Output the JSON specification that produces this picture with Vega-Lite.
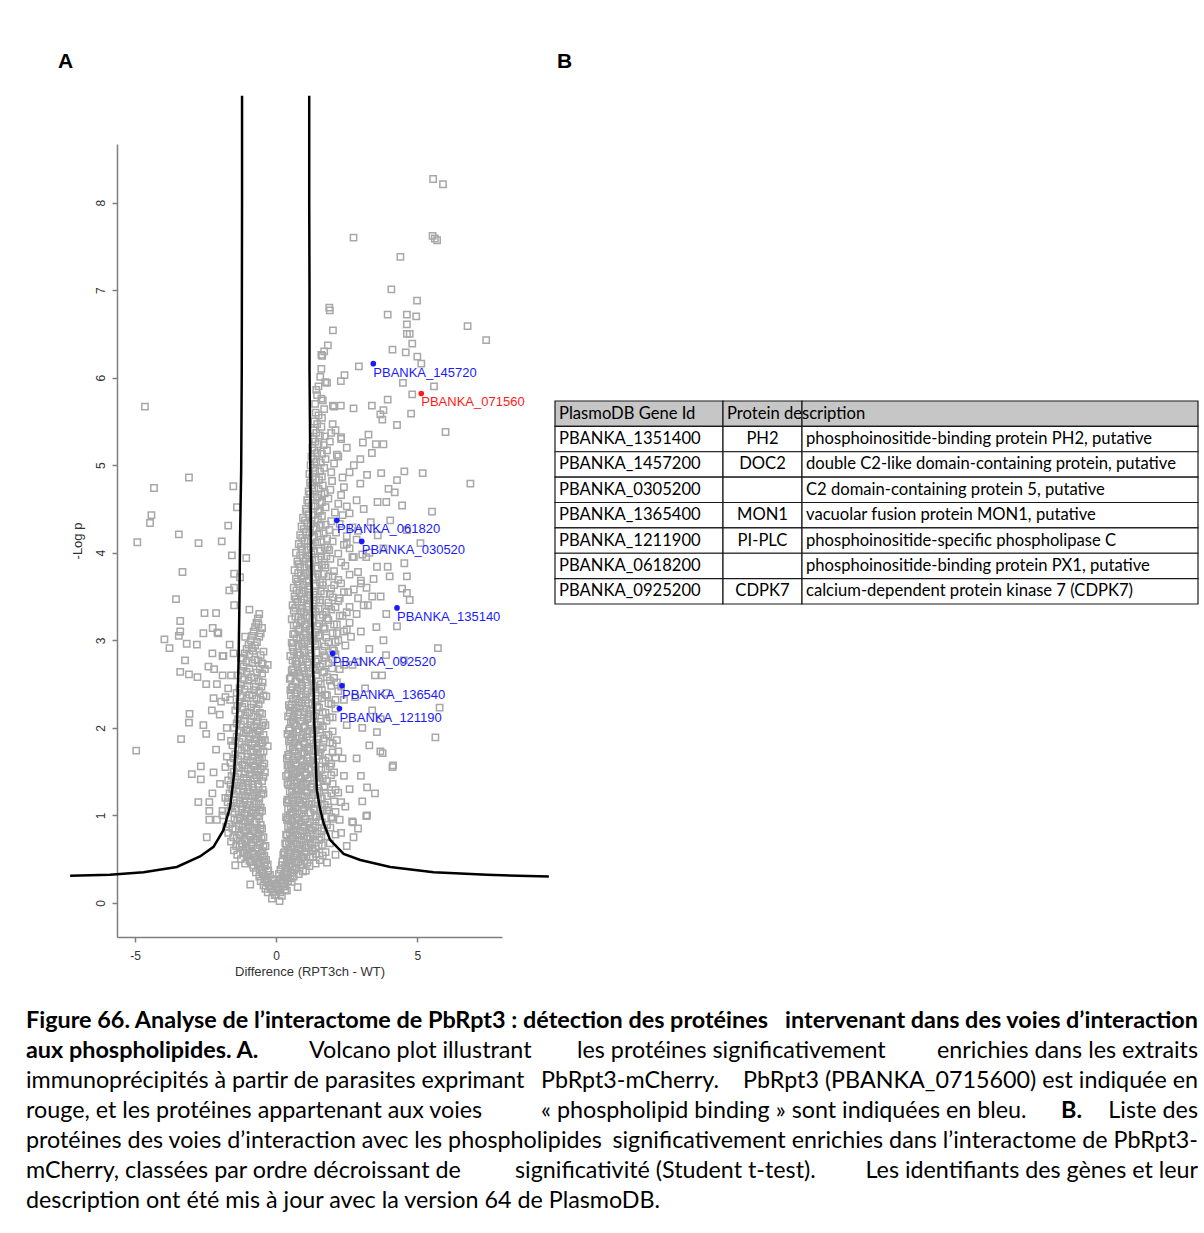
{
"$schema": "https://vega.github.io/schema/vega-lite/v6.json",
"background": "white",
"padding": {"left": 26, "top": 50, "right": 5, "bottom": 5},
"config": {"view": {"stroke": null}, "font": "Liberation Sans"},
"datasets": {
"pts": [
{"x":5.56,"y":8.27},{"x":5.91,"y":8.21},{"x":2.74,"y":7.6},{"x":5.54,"y":7.62},{"x":5.7,"y":7.57},{"x":5.62,"y":7.59},{"x":4.4,"y":7.38},{"x":4.08,"y":7.01},{"x":4.99,"y":6.88},{"x":1.88,"y":6.8},{"x":1.9,"y":6.77},{"x":3.95,"y":6.72},{"x":4.63,"y":6.72},{"x":4.96,"y":6.7},{"x":4.63,"y":6.61},{"x":6.78,"y":6.59},{"x":2.01,"y":6.54},{"x":4.63,"y":6.5},{"x":4.73,"y":6.5},{"x":7.44,"y":6.43},{"x":1.83,"y":6.37},{"x":4.82,"y":6.39},{"x":4.12,"y":6.32},{"x":4.59,"y":6.29},{"x":1.63,"y":6.25},{"x":1.6,"y":6.26},{"x":5.0,"y":6.24},{"x":5.14,"y":6.16},{"x":2.93,"y":6.13},{"x":2.42,"y":6.03},{"x":1.56,"y":6.01},{"x":1.74,"y":5.95},{"x":2.29,"y":5.96},{"x":4.49,"y":5.94},{"x":5.59,"y":5.9},{"x":1.42,"y":5.86},{"x":4.82,"y":5.81},{"x":1.6,"y":5.76},{"x":3.95,"y":5.75},{"x":2.01,"y":5.68},{"x":2.29,"y":5.68},{"x":2.74,"y":5.65},{"x":3.39,"y":5.68},{"x":3.8,"y":5.63},{"x":3.69,"y":5.58},{"x":4.78,"y":5.59},{"x":3.76,"y":5.52},{"x":4.28,"y":5.46},{"x":6.0,"y":5.38},{"x":3.07,"y":5.26},{"x":3.27,"y":5.35},{"x":3.53,"y":5.24},{"x":3.8,"y":5.24},{"x":3.39,"y":5.14},{"x":2.98,"y":5.07},{"x":2.6,"y":4.92},{"x":3.72,"y":4.91},{"x":4.54,"y":4.93},{"x":5.19,"y":4.91},{"x":6.88,"y":4.79},{"x":4.28,"y":4.83},{"x":3.98,"y":4.73},{"x":4.2,"y":4.69},{"x":3.22,"y":4.89},{"x":2.98,"y":4.79},{"x":3.59,"y":4.58},{"x":3.9,"y":4.58},{"x":4.46,"y":4.54},{"x":5.52,"y":4.47},{"x":4.04,"y":4.37},{"x":4.63,"y":4.26},{"x":5.11,"y":4.11},{"x":3.95,"y":3.84},{"x":4.54,"y":3.88},{"x":3.57,"y":3.84},{"x":3.19,"y":3.95},{"x":4.02,"y":3.73},{"x":4.63,"y":3.73},{"x":4.73,"y":3.46},{"x":4.46,"y":3.59},{"x":5.73,"y":2.91},{"x":5.79,"y":2.23},{"x":5.64,"y":1.89},{"x":4.14,"y":1.57},{"x":3.19,"y":0.99},{"x":3.05,"y":1.16},{"x":2.74,"y":0.75},{"x":2.69,"y":0.93},{"x":3.69,"y":1.73},{"x":3.57,"y":1.95},{"x":4.63,"y":3.54},{"x":3.89,"y":2.83},{"x":4.52,"y":2.77},{"x":3.75,"y":2.6},{"x":4.28,"y":3.16},{"x":4.12,"y":1.55},{"x":3.77,"y":1.71},{"x":3.22,"y":1.32},{"x":3.22,"y":1.0},{"x":2.72,"y":0.92},{"x":1.8,"y":0.46},{"x":0.76,"y":0.18},
{"x":2.1,"y":5.4},{"x":2.3,"y":5.3},{"x":2.5,"y":5.2},{"x":2.2,"y":5.1},{"x":2.75,"y":5.0},{"x":2.4,"y":4.75},{"x":2.85,"y":4.6},{"x":3.1,"y":4.5},{"x":2.6,"y":4.45},{"x":3.35,"y":4.35},{"x":2.9,"y":4.25},{"x":3.6,"y":4.2},{"x":2.5,"y":4.1},{"x":3.3,"y":4.0},{"x":2.7,"y":3.95},{"x":3.8,"y":4.05},{"x":3.45,"y":3.7},{"x":3.0,"y":3.65},{"x":2.55,"y":3.55},{"x":3.7,"y":3.5},{"x":3.25,"y":3.4},{"x":3.9,"y":3.3},{"x":3.55,"y":3.15},{"x":3.0,"y":3.1},{"x":3.8,"y":3.0},{"x":3.3,"y":2.9},{"x":2.9,"y":2.75},{"x":3.5,"y":2.6},{"x":3.15,"y":2.45},{"x":3.9,"y":2.4},{"x":2.8,"y":2.35},{"x":3.4,"y":2.2},{"x":3.7,"y":2.1},{"x":3.05,"y":2.0},{"x":3.3,"y":1.8},{"x":2.85,"y":1.65},{"x":3.0,"y":1.45},{"x":2.6,"y":1.3},{"x":3.5,"y":1.25},{"x":2.45,"y":1.1},{"x":2.9,"y":0.85},{"x":2.3,"y":0.8},{"x":2.5,"y":0.65},{"x":2.1,"y":0.55},
{"x":-4.65,"y":5.67},{"x":-3.09,"y":4.86},{"x":-4.33,"y":4.74},{"x":-1.52,"y":4.76},{"x":-4.42,"y":4.43},{"x":-4.47,"y":4.34},{"x":-1.39,"y":4.52},{"x":-1.7,"y":4.31},{"x":-3.45,"y":4.21},{"x":-4.92,"y":4.12},{"x":-2.75,"y":4.11},{"x":-1.93,"y":4.13},{"x":-1.57,"y":3.97},{"x":-1.06,"y":3.94},{"x":-3.32,"y":3.78},{"x":-1.49,"y":3.76},{"x":-1.28,"y":3.72},{"x":-1.66,"y":3.57},{"x":-1.49,"y":3.6},{"x":-3.55,"y":3.47},{"x":-2.54,"y":3.31},{"x":-2.13,"y":3.31},{"x":-1.49,"y":3.4},{"x":-0.95,"y":3.35},{"x":-3.4,"y":3.22},{"x":-2.25,"y":3.14},{"x":-2.58,"y":3.08},{"x":-3.45,"y":3.05},{"x":-3.96,"y":3.01},{"x":-3.17,"y":2.96},{"x":-3.78,"y":2.91},{"x":-2.81,"y":2.95},{"x":-2.05,"y":3.08},{"x":-1.1,"y":3.04},{"x":-0.86,"y":2.91},{"x":-0.63,"y":3.18},{"x":-1.18,"y":2.79},{"x":-1.51,"y":2.85},{"x":-2.26,"y":2.85},{"x":-3.23,"y":2.77},{"x":-0.51,"y":2.74},{"x":-1.9,"y":2.82},{"x":-3.4,"y":3.1},{"x":-2.08,"y":3.09},{"x":-3.4,"y":2.64},{"x":-3.09,"y":2.61},{"x":-2.79,"y":2.58},{"x":-2.4,"y":2.7},{"x":-2.2,"y":2.67},{"x":-1.87,"y":2.82},{"x":-2.48,"y":2.5},{"x":-2.22,"y":2.34},{"x":-1.63,"y":2.32},{"x":-1.8,"y":2.35},{"x":-1.95,"y":2.3},{"x":-2.28,"y":2.2},{"x":-3.07,"y":2.16},{"x":-3.09,"y":2.06},{"x":-2.58,"y":2.03},{"x":-2.48,"y":1.93},{"x":-3.37,"y":1.87},{"x":-4.96,"y":1.74},{"x":-2.13,"y":1.75},{"x":-1.75,"y":1.67},{"x":-2.67,"y":1.56},{"x":-2.99,"y":1.47},{"x":-2.67,"y":1.41},{"x":-2.22,"y":1.49},{"x":-1.99,"y":1.36},{"x":-2.26,"y":1.25},{"x":-2.76,"y":1.15},{"x":-2.37,"y":1.15},{"x":-2.37,"y":1.05},{"x":-2.37,"y":0.95},{"x":-2.46,"y":0.75},{"x":-1.77,"y":0.87},{"x":-1.45,"y":0.43},{"x":-0.92,"y":0.21},
{"x":-1.9,"y":2.6},{"x":-1.7,"y":2.45},{"x":-2.0,"y":2.15},{"x":-1.75,"y":2.0},{"x":-1.6,"y":1.85},{"x":-1.95,"y":1.9},{"x":-1.8,"y":1.55},{"x":-1.55,"y":1.3},{"x":-1.7,"y":1.2},{"x":-1.9,"y":1.05},{"x":-2.1,"y":0.95},{"x":-1.6,"y":2.6},{"x":-1.65,"y":2.95},{"x":-2.1,"y":2.5},
{"x":-0.15,"y":0.05},{"x":0.0,"y":0.09},{"x":0.12,"y":0.02},
{"x":-0.3,"y":0.12},{"x":-0.18,"y":0.16},{"x":-0.05,"y":0.09},{"x":0.08,"y":0.14},{"x":0.2,"y":0.08},{"x":0.32,"y":0.15},
{"x":-0.45,"y":0.2},{"x":-0.32,"y":0.24},{"x":-0.2,"y":0.17},{"x":-0.08,"y":0.22},{"x":0.05,"y":0.16},{"x":0.18,"y":0.23},{"x":0.3,"y":0.19},{"x":0.42,"y":0.25},
{"x":-0.6,"y":0.3},{"x":-0.48,"y":0.34},{"x":-0.35,"y":0.27},{"x":-0.22,"y":0.32},{"x":-0.1,"y":0.26},{"x":0.1,"y":0.33},{"x":0.22,"y":0.29},{"x":0.35,"y":0.35},{"x":0.5,"y":0.28},{"x":0.62,"y":0.3},
{"x":-0.8,"y":0.4},{"x":-0.65,"y":0.44},{"x":-0.52,"y":0.37},{"x":-0.4,"y":0.42},{"x":-0.28,"y":0.36},{"x":0.2,"y":0.43},{"x":0.32,"y":0.39},{"x":0.45,"y":0.45},{"x":0.58,"y":0.38},{"x":0.72,"y":0.4},{"x":0.88,"y":0.44},{"x":1.05,"y":0.37},
{"x":-1.25,"y":0.5},{"x":-1.05,"y":0.54},{"x":-0.9,"y":0.47},{"x":-0.75,"y":0.52},{"x":-0.6,"y":0.46},{"x":-0.48,"y":0.53},{"x":-0.36,"y":0.49},{"x":0.25,"y":0.55},{"x":0.38,"y":0.48},{"x":0.52,"y":0.5},{"x":0.66,"y":0.54},{"x":0.8,"y":0.47},{"x":0.95,"y":0.52},{"x":1.1,"y":0.46},{"x":1.3,"y":0.53},{"x":1.55,"y":0.49},
{"x":-1.5,"y":0.6},{"x":-1.3,"y":0.64},{"x":-1.12,"y":0.57},{"x":-0.95,"y":0.62},{"x":-0.8,"y":0.56},{"x":-0.65,"y":0.63},{"x":-0.5,"y":0.59},{"x":-0.38,"y":0.65},{"x":0.3,"y":0.58},{"x":0.42,"y":0.6},{"x":0.55,"y":0.64},{"x":0.7,"y":0.57},{"x":0.85,"y":0.62},{"x":1.0,"y":0.56},{"x":1.15,"y":0.63},{"x":1.3,"y":0.59},{"x":1.5,"y":0.65},{"x":1.75,"y":0.58},
{"x":-1.6,"y":0.7},{"x":-1.4,"y":0.74},{"x":-1.2,"y":0.67},{"x":-1.05,"y":0.72},{"x":-0.88,"y":0.66},{"x":-0.72,"y":0.73},{"x":-0.58,"y":0.69},{"x":-0.45,"y":0.75},{"x":0.32,"y":0.68},{"x":0.45,"y":0.7},{"x":0.6,"y":0.74},{"x":0.75,"y":0.67},{"x":0.9,"y":0.72},{"x":1.05,"y":0.66},{"x":1.2,"y":0.73},{"x":1.38,"y":0.69},{"x":1.6,"y":0.75},{"x":1.9,"y":0.68},
{"x":-1.7,"y":0.8},{"x":-1.45,"y":0.84},{"x":-1.25,"y":0.77},{"x":-1.08,"y":0.82},{"x":-0.92,"y":0.76},{"x":-0.78,"y":0.83},{"x":-0.62,"y":0.79},{"x":-0.5,"y":0.85},{"x":0.35,"y":0.78},{"x":0.48,"y":0.8},{"x":0.62,"y":0.84},{"x":0.78,"y":0.77},{"x":0.92,"y":0.82},{"x":1.08,"y":0.76},{"x":1.25,"y":0.83},{"x":1.45,"y":0.79},{"x":1.7,"y":0.85},{"x":2.1,"y":0.78},
{"x":-1.65,"y":0.9},{"x":-1.38,"y":0.94},{"x":-1.18,"y":0.87},{"x":-1.0,"y":0.92},{"x":-0.85,"y":0.86},{"x":-0.7,"y":0.93},{"x":-0.55,"y":0.89},{"x":0.38,"y":0.95},{"x":0.5,"y":0.88},{"x":0.65,"y":0.9},{"x":0.8,"y":0.94},{"x":0.95,"y":0.87},{"x":1.12,"y":0.92},{"x":1.3,"y":0.86},{"x":1.52,"y":0.93},{"x":1.8,"y":0.89},{"x":2.25,"y":0.95},
{"x":-1.9,"y":1.0},{"x":-1.55,"y":1.04},{"x":-1.3,"y":0.97},{"x":-1.12,"y":1.02},{"x":-0.95,"y":0.96},{"x":-0.8,"y":1.03},{"x":-0.65,"y":0.99},{"x":-0.5,"y":1.05},{"x":0.35,"y":0.98},{"x":0.48,"y":1.0},{"x":0.6,"y":1.04},{"x":0.75,"y":0.97},{"x":0.9,"y":1.02},{"x":1.05,"y":0.96},{"x":1.22,"y":1.03},{"x":1.42,"y":0.99},{"x":1.65,"y":1.05},{"x":1.95,"y":0.98},
{"x":-1.6,"y":1.1},{"x":-1.4,"y":1.14},{"x":-1.2,"y":1.07},{"x":-1.02,"y":1.12},{"x":-0.85,"y":1.06},{"x":-0.7,"y":1.13},{"x":-0.55,"y":1.09},{"x":0.38,"y":1.15},{"x":0.52,"y":1.08},{"x":0.68,"y":1.1},{"x":0.82,"y":1.14},{"x":0.98,"y":1.07},{"x":1.15,"y":1.12},{"x":1.35,"y":1.06},{"x":1.58,"y":1.13},{"x":1.85,"y":1.09},{"x":2.3,"y":1.15},
{"x":-1.8,"y":1.2},{"x":-1.5,"y":1.24},{"x":-1.28,"y":1.17},{"x":-1.1,"y":1.22},{"x":-0.92,"y":1.16},{"x":-0.75,"y":1.23},{"x":-0.6,"y":1.19},{"x":-0.45,"y":1.25},{"x":0.4,"y":1.18},{"x":0.55,"y":1.2},{"x":0.7,"y":1.24},{"x":0.85,"y":1.17},{"x":1.0,"y":1.22},{"x":1.18,"y":1.16},{"x":1.38,"y":1.23},{"x":1.62,"y":1.19},{"x":1.95,"y":1.25},
{"x":-1.55,"y":1.3},{"x":-1.32,"y":1.34},{"x":-1.15,"y":1.27},{"x":-0.98,"y":1.32},{"x":-0.8,"y":1.26},{"x":-0.62,"y":1.33},{"x":-0.48,"y":1.29},{"x":0.42,"y":1.35},{"x":0.56,"y":1.28},{"x":0.72,"y":1.3},{"x":0.88,"y":1.34},{"x":1.05,"y":1.27},{"x":1.22,"y":1.32},{"x":1.45,"y":1.26},{"x":1.72,"y":1.33},{"x":2.1,"y":1.29},
{"x":-1.7,"y":1.4},{"x":-1.45,"y":1.44},{"x":-1.25,"y":1.37},{"x":-1.05,"y":1.42},{"x":-0.85,"y":1.36},{"x":-0.68,"y":1.43},{"x":-0.5,"y":1.39},{"x":0.35,"y":1.45},{"x":0.5,"y":1.38},{"x":0.65,"y":1.4},{"x":0.8,"y":1.44},{"x":0.95,"y":1.37},{"x":1.12,"y":1.42},{"x":1.3,"y":1.36},{"x":1.52,"y":1.43},{"x":1.8,"y":1.39},{"x":2.4,"y":1.45},
{"x":-1.5,"y":1.5},{"x":-1.3,"y":1.54},{"x":-1.1,"y":1.47},{"x":-0.9,"y":1.52},{"x":-0.72,"y":1.46},{"x":-0.55,"y":1.53},{"x":-0.4,"y":1.49},{"x":0.45,"y":1.55},{"x":0.6,"y":1.48},{"x":0.75,"y":1.5},{"x":0.9,"y":1.54},{"x":1.08,"y":1.47},{"x":1.25,"y":1.52},{"x":1.48,"y":1.46},{"x":1.75,"y":1.53},{"x":2.05,"y":1.49},
{"x":-1.62,"y":1.6},{"x":-1.35,"y":1.64},{"x":-1.12,"y":1.57},{"x":-0.92,"y":1.62},{"x":-0.75,"y":1.56},{"x":-0.58,"y":1.63},{"x":-0.42,"y":1.59},{"x":0.38,"y":1.65},{"x":0.52,"y":1.58},{"x":0.68,"y":1.6},{"x":0.85,"y":1.64},{"x":1.02,"y":1.57},{"x":1.2,"y":1.62},{"x":1.4,"y":1.56},{"x":1.65,"y":1.63},{"x":1.95,"y":1.59},{"x":2.35,"y":1.65},
{"x":-1.45,"y":1.7},{"x":-1.22,"y":1.74},{"x":-1.0,"y":1.67},{"x":-0.8,"y":1.72},{"x":-0.62,"y":1.66},{"x":-0.45,"y":1.73},{"x":0.42,"y":1.69},{"x":0.58,"y":1.75},{"x":0.75,"y":1.68},{"x":0.92,"y":1.7},{"x":1.1,"y":1.74},{"x":1.3,"y":1.67},{"x":1.55,"y":1.72},{"x":1.85,"y":1.66},{"x":2.2,"y":1.73},
{"x":-1.55,"y":1.8},{"x":-1.3,"y":1.84},{"x":-1.05,"y":1.77},{"x":-0.85,"y":1.82},{"x":-0.65,"y":1.76},{"x":-0.48,"y":1.83},{"x":-0.3,"y":1.79},{"x":0.45,"y":1.85},{"x":0.6,"y":1.78},{"x":0.78,"y":1.8},{"x":0.95,"y":1.84},{"x":1.12,"y":1.77},{"x":1.32,"y":1.82},{"x":1.58,"y":1.76},{"x":1.9,"y":1.83},
{"x":-1.4,"y":1.9},{"x":-1.15,"y":1.94},{"x":-0.92,"y":1.87},{"x":-0.72,"y":1.92},{"x":-0.52,"y":1.86},{"x":0.4,"y":1.93},{"x":0.55,"y":1.89},{"x":0.72,"y":1.95},{"x":0.9,"y":1.88},{"x":1.08,"y":1.9},{"x":1.28,"y":1.94},{"x":1.5,"y":1.87},{"x":1.78,"y":1.92},{"x":2.15,"y":1.86},
{"x":-1.5,"y":2.0},{"x":-1.25,"y":2.04},{"x":-1.0,"y":1.97},{"x":-0.78,"y":2.02},{"x":-0.58,"y":1.96},{"x":-0.38,"y":2.03},{"x":0.48,"y":1.99},{"x":0.62,"y":2.05},{"x":0.8,"y":1.98},{"x":0.98,"y":2.0},{"x":1.18,"y":2.04},{"x":1.4,"y":1.97},{"x":1.65,"y":2.02},{"x":2.0,"y":1.96},{"x":2.5,"y":2.03},
{"x":-1.35,"y":2.1},{"x":-1.1,"y":2.14},{"x":-0.88,"y":2.07},{"x":-0.65,"y":2.12},{"x":-0.45,"y":2.06},{"x":0.42,"y":2.13},{"x":0.58,"y":2.09},{"x":0.75,"y":2.15},{"x":0.92,"y":2.08},{"x":1.1,"y":2.1},{"x":1.32,"y":2.14},{"x":1.58,"y":2.07},{"x":1.9,"y":2.12},
{"x":-1.45,"y":2.2},{"x":-1.2,"y":2.24},{"x":-0.95,"y":2.17},{"x":-0.7,"y":2.22},{"x":-0.5,"y":2.16},{"x":0.5,"y":2.23},{"x":0.65,"y":2.19},{"x":0.82,"y":2.25},{"x":1.0,"y":2.18},{"x":1.2,"y":2.2},{"x":1.45,"y":2.24},{"x":1.75,"y":2.17},{"x":2.1,"y":2.22},
{"x":-1.3,"y":2.3},{"x":-1.05,"y":2.34},{"x":-0.8,"y":2.27},{"x":-0.55,"y":2.32},{"x":0.45,"y":2.26},{"x":0.6,"y":2.33},{"x":0.78,"y":2.29},{"x":0.95,"y":2.35},{"x":1.15,"y":2.28},{"x":1.38,"y":2.3},{"x":1.62,"y":2.34},{"x":1.95,"y":2.27},{"x":2.4,"y":2.32},
{"x":-1.4,"y":2.4},{"x":-1.12,"y":2.44},{"x":-0.85,"y":2.37},{"x":-0.6,"y":2.42},{"x":-0.35,"y":2.36},{"x":0.5,"y":2.43},{"x":0.68,"y":2.39},{"x":0.85,"y":2.45},{"x":1.05,"y":2.38},{"x":1.25,"y":2.4},{"x":1.5,"y":2.44},{"x":1.8,"y":2.37},{"x":2.2,"y":2.42},
{"x":-1.25,"y":2.5},{"x":-0.98,"y":2.54},{"x":-0.72,"y":2.47},{"x":-0.48,"y":2.52},{"x":0.55,"y":2.46},{"x":0.72,"y":2.53},{"x":0.9,"y":2.49},{"x":1.1,"y":2.55},{"x":1.32,"y":2.48},{"x":1.58,"y":2.5},{"x":1.9,"y":2.54},{"x":2.3,"y":2.47},
{"x":-1.35,"y":2.6},{"x":-1.05,"y":2.64},{"x":-0.78,"y":2.57},{"x":-0.5,"y":2.62},{"x":0.48,"y":2.56},{"x":0.65,"y":2.63},{"x":0.82,"y":2.59},{"x":1.0,"y":2.65},{"x":1.2,"y":2.58},{"x":1.42,"y":2.6},{"x":1.7,"y":2.64},{"x":2.05,"y":2.57},
{"x":-1.15,"y":2.7},{"x":-0.85,"y":2.74},{"x":-0.58,"y":2.67},{"x":-0.3,"y":2.72},{"x":0.55,"y":2.66},{"x":0.72,"y":2.73},{"x":0.9,"y":2.69},{"x":1.1,"y":2.75},{"x":1.3,"y":2.68},{"x":1.55,"y":2.7},{"x":1.85,"y":2.74},{"x":2.25,"y":2.67},{"x":2.7,"y":2.72},
{"x":-1.25,"y":2.8},{"x":-0.95,"y":2.84},{"x":-0.65,"y":2.77},{"x":0.5,"y":2.82},{"x":0.68,"y":2.76},{"x":0.85,"y":2.83},{"x":1.05,"y":2.79},{"x":1.25,"y":2.85},{"x":1.48,"y":2.78},{"x":1.75,"y":2.8},{"x":2.1,"y":2.84},
{"x":-1.05,"y":2.9},{"x":-0.75,"y":2.94},{"x":-0.45,"y":2.87},{"x":0.58,"y":2.92},{"x":0.75,"y":2.86},{"x":0.95,"y":2.93},{"x":1.15,"y":2.89},{"x":1.38,"y":2.95},{"x":1.65,"y":2.88},{"x":2.0,"y":2.9},{"x":2.45,"y":2.94},
{"x":-0.9,"y":3.0},{"x":-0.6,"y":3.04},{"x":0.55,"y":2.97},{"x":0.72,"y":3.02},{"x":0.9,"y":2.96},{"x":1.1,"y":3.03},{"x":1.3,"y":2.99},{"x":1.55,"y":3.05},{"x":1.85,"y":2.98},{"x":2.2,"y":3.0},{"x":2.65,"y":3.04},
{"x":-0.8,"y":3.1},{"x":-0.5,"y":3.14},{"x":0.6,"y":3.07},{"x":0.78,"y":3.12},{"x":0.98,"y":3.06},{"x":1.18,"y":3.13},{"x":1.4,"y":3.09},{"x":1.68,"y":3.15},{"x":2.0,"y":3.08},{"x":2.4,"y":3.1},
{"x":-0.7,"y":3.2},{"x":0.55,"y":3.24},{"x":0.72,"y":3.17},{"x":0.9,"y":3.22},{"x":1.08,"y":3.16},{"x":1.28,"y":3.23},{"x":1.52,"y":3.19},{"x":1.8,"y":3.25},{"x":2.15,"y":3.18},{"x":2.6,"y":3.2},
{"x":-0.6,"y":3.3},{"x":0.62,"y":3.34},{"x":0.8,"y":3.27},{"x":0.98,"y":3.32},{"x":1.18,"y":3.26},{"x":1.4,"y":3.33},{"x":1.65,"y":3.29},{"x":1.95,"y":3.35},{"x":2.35,"y":3.28},{"x":2.85,"y":3.3},
{"x":0.58,"y":3.4},{"x":0.75,"y":3.44},{"x":0.92,"y":3.37},{"x":1.12,"y":3.42},{"x":1.32,"y":3.36},{"x":1.55,"y":3.43},{"x":1.85,"y":3.39},{"x":2.2,"y":3.45},{"x":2.6,"y":3.38},{"x":3.1,"y":3.4},
{"x":0.65,"y":3.5},{"x":0.82,"y":3.54},{"x":1.0,"y":3.47},{"x":1.2,"y":3.52},{"x":1.42,"y":3.46},{"x":1.7,"y":3.53},{"x":2.0,"y":3.49},{"x":2.4,"y":3.55},{"x":2.9,"y":3.48},{"x":3.4,"y":3.5},
{"x":0.62,"y":3.6},{"x":0.8,"y":3.64},{"x":0.98,"y":3.57},{"x":1.18,"y":3.62},{"x":1.4,"y":3.56},{"x":1.65,"y":3.63},{"x":1.95,"y":3.59},{"x":2.3,"y":3.65},{"x":2.75,"y":3.58},{"x":3.2,"y":3.6},
{"x":0.7,"y":3.7},{"x":0.88,"y":3.74},{"x":1.08,"y":3.67},{"x":1.3,"y":3.72},{"x":1.55,"y":3.66},{"x":1.85,"y":3.73},{"x":2.2,"y":3.69},{"x":2.6,"y":3.75},{"x":3.0,"y":3.68},
{"x":0.65,"y":3.8},{"x":0.85,"y":3.84},{"x":1.05,"y":3.77},{"x":1.25,"y":3.82},{"x":1.48,"y":3.76},{"x":1.75,"y":3.83},{"x":2.05,"y":3.79},{"x":2.45,"y":3.85},{"x":2.9,"y":3.78},
{"x":0.75,"y":3.9},{"x":0.95,"y":3.94},{"x":1.15,"y":3.87},{"x":1.38,"y":3.92},{"x":1.62,"y":3.86},{"x":1.92,"y":3.93},{"x":2.3,"y":3.89},{"x":2.75,"y":3.95},
{"x":0.7,"y":4.0},{"x":0.92,"y":4.04},{"x":1.12,"y":3.97},{"x":1.35,"y":4.02},{"x":1.6,"y":3.96},{"x":1.88,"y":4.03},{"x":2.2,"y":3.99},{"x":2.6,"y":4.05},{"x":3.05,"y":3.98},
{"x":0.8,"y":4.1},{"x":1.0,"y":4.14},{"x":1.22,"y":4.07},{"x":1.45,"y":4.12},{"x":1.72,"y":4.06},{"x":2.0,"y":4.13},{"x":2.4,"y":4.09},{"x":2.85,"y":4.15},
{"x":0.85,"y":4.2},{"x":1.05,"y":4.24},{"x":1.28,"y":4.17},{"x":1.52,"y":4.22},{"x":1.8,"y":4.16},{"x":2.12,"y":4.23},{"x":2.5,"y":4.19},
{"x":0.9,"y":4.3},{"x":1.1,"y":4.34},{"x":1.32,"y":4.27},{"x":1.58,"y":4.32},{"x":1.88,"y":4.26},{"x":2.25,"y":4.33},{"x":2.7,"y":4.29},
{"x":0.95,"y":4.4},{"x":1.15,"y":4.44},{"x":1.38,"y":4.37},{"x":1.62,"y":4.42},{"x":1.95,"y":4.36},{"x":2.35,"y":4.43},
{"x":1.05,"y":4.5},{"x":1.25,"y":4.54},{"x":1.48,"y":4.47},{"x":1.75,"y":4.52},{"x":2.08,"y":4.46},{"x":2.5,"y":4.53},
{"x":1.1,"y":4.6},{"x":1.3,"y":4.64},{"x":1.55,"y":4.57},{"x":1.85,"y":4.62},{"x":2.2,"y":4.56},
{"x":1.15,"y":4.7},{"x":1.35,"y":4.74},{"x":1.6,"y":4.67},{"x":1.92,"y":4.72},{"x":2.3,"y":4.66},
{"x":1.2,"y":4.8},{"x":1.4,"y":4.84},{"x":1.65,"y":4.77},{"x":1.98,"y":4.82},
{"x":1.18,"y":4.9},{"x":1.38,"y":4.94},{"x":1.62,"y":4.87},{"x":1.95,"y":4.92},{"x":2.35,"y":4.86},
{"x":1.22,"y":5.0},{"x":1.42,"y":5.04},{"x":1.7,"y":4.97},{"x":2.05,"y":5.02},
{"x":1.25,"y":5.1},{"x":1.45,"y":5.14},{"x":1.75,"y":5.07},{"x":2.15,"y":5.12},
{"x":1.28,"y":5.2},{"x":1.5,"y":5.24},{"x":1.8,"y":5.17},
{"x":1.3,"y":5.3},{"x":1.55,"y":5.34},{"x":1.9,"y":5.27},{"x":2.3,"y":5.32},
{"x":1.32,"y":5.4},{"x":1.6,"y":5.44},{"x":1.95,"y":5.37},
{"x":1.35,"y":5.5},{"x":1.62,"y":5.54},{"x":2.0,"y":5.47},
{"x":1.4,"y":5.6},{"x":1.7,"y":5.64},
{"x":1.38,"y":5.7},{"x":1.65,"y":5.74},{"x":2.05,"y":5.67},
{"x":1.45,"y":5.8},{"x":1.5,"y":5.9},{"x":1.8,"y":5.94},{"x":1.6,"y":6.1},{"x":1.7,"y":6.3},
{"x":-0.38,"y":0.16},{"x":-0.25,"y":0.19},{"x":-0.12,"y":0.13},{"x":0.02,"y":0.18},{"x":0.14,"y":0.12},{"x":0.26,"y":0.19},{"x":0.38,"y":0.14},
{"x":-0.55,"y":0.25},{"x":-0.42,"y":0.28},{"x":-0.28,"y":0.23},{"x":-0.15,"y":0.27},{"x":0.0,"y":0.21},{"x":0.14,"y":0.27},{"x":0.26,"y":0.24},{"x":0.4,"y":0.29},{"x":0.55,"y":0.24},
{"x":-0.72,"y":0.35},{"x":-0.58,"y":0.38},{"x":-0.45,"y":0.33},{"x":-0.3,"y":0.37},{"x":0.15,"y":0.38},{"x":0.28,"y":0.33},{"x":0.4,"y":0.36},{"x":0.52,"y":0.34},{"x":0.66,"y":0.38},{"x":0.8,"y":0.33},{"x":0.95,"y":0.36},
{"x":-1.1,"y":0.45},{"x":-0.95,"y":0.48},{"x":-0.82,"y":0.43},{"x":-0.68,"y":0.47},{"x":-0.55,"y":0.42},{"x":-0.42,"y":0.46},{"x":-0.3,"y":0.44},{"x":0.22,"y":0.47},{"x":0.32,"y":0.43},{"x":0.45,"y":0.48},{"x":0.58,"y":0.42},{"x":0.72,"y":0.46},{"x":0.87,"y":0.43},{"x":1.0,"y":0.48},{"x":1.18,"y":0.42},{"x":1.4,"y":0.45},
{"x":-1.38,"y":0.55},{"x":-1.18,"y":0.58},{"x":-1.0,"y":0.53},{"x":-0.85,"y":0.57},{"x":-0.7,"y":0.52},{"x":-0.55,"y":0.56},{"x":-0.42,"y":0.54},{"x":0.28,"y":0.57},{"x":0.4,"y":0.53},{"x":0.5,"y":0.58},{"x":0.62,"y":0.52},{"x":0.75,"y":0.56},{"x":0.9,"y":0.53},{"x":1.05,"y":0.58},{"x":1.2,"y":0.52},{"x":1.4,"y":0.56},{"x":1.65,"y":0.54},
{"x":-1.42,"y":0.65},{"x":-1.22,"y":0.68},{"x":-1.05,"y":0.63},{"x":-0.88,"y":0.67},{"x":-0.72,"y":0.62},{"x":-0.58,"y":0.66},{"x":-0.45,"y":0.64},{"x":0.36,"y":0.67},{"x":0.5,"y":0.63},{"x":0.62,"y":0.68},{"x":0.78,"y":0.62},{"x":0.92,"y":0.66},{"x":1.08,"y":0.63},{"x":1.22,"y":0.68},{"x":1.4,"y":0.62},{"x":1.62,"y":0.66},
{"x":-1.52,"y":0.75},{"x":-1.3,"y":0.78},{"x":-1.12,"y":0.73},{"x":-0.96,"y":0.77},{"x":-0.8,"y":0.72},{"x":-0.65,"y":0.76},{"x":-0.52,"y":0.74},{"x":0.38,"y":0.77},{"x":0.52,"y":0.73},{"x":0.68,"y":0.78},{"x":0.82,"y":0.72},{"x":0.98,"y":0.76},{"x":1.12,"y":0.73},{"x":1.3,"y":0.78},{"x":1.52,"y":0.72},{"x":1.75,"y":0.76},
{"x":-1.55,"y":0.85},{"x":-1.32,"y":0.88},{"x":-1.15,"y":0.83},{"x":-0.98,"y":0.87},{"x":-0.82,"y":0.82},{"x":-0.68,"y":0.86},{"x":-0.56,"y":0.84},{"x":0.42,"y":0.87},{"x":0.55,"y":0.83},{"x":0.7,"y":0.88},{"x":0.85,"y":0.82},{"x":1.0,"y":0.86},{"x":1.18,"y":0.83},{"x":1.38,"y":0.88},{"x":1.6,"y":0.82},{"x":1.92,"y":0.86},
{"x":-1.48,"y":0.95},{"x":-1.28,"y":0.98},{"x":-1.1,"y":0.93},{"x":-0.92,"y":0.97},{"x":-0.76,"y":0.92},{"x":-0.6,"y":0.96},{"x":0.42,"y":0.97},{"x":0.56,"y":0.93},{"x":0.72,"y":0.98},{"x":0.88,"y":0.92},{"x":1.02,"y":0.96},{"x":1.2,"y":0.93},{"x":1.4,"y":0.98},{"x":1.62,"y":0.92},{"x":2.0,"y":0.96},
{"x":-1.7,"y":1.05},{"x":-1.45,"y":1.08},{"x":-1.22,"y":1.03},{"x":-1.05,"y":1.07},{"x":-0.88,"y":1.02},{"x":-0.72,"y":1.06},{"x":-0.58,"y":1.04},{"x":0.42,"y":1.07},{"x":0.55,"y":1.03},{"x":0.68,"y":1.08},{"x":0.82,"y":1.02},{"x":0.98,"y":1.06},{"x":1.15,"y":1.03},{"x":1.32,"y":1.08},{"x":1.55,"y":1.02},{"x":1.8,"y":1.06},{"x":2.1,"y":1.04},
{"x":-1.72,"y":1.15},{"x":-1.5,"y":1.18},{"x":-1.3,"y":1.13},{"x":-1.12,"y":1.17},{"x":-0.95,"y":1.12},{"x":-0.78,"y":1.16},{"x":-0.62,"y":1.14},{"x":0.45,"y":1.17},{"x":0.6,"y":1.13},{"x":0.75,"y":1.18},{"x":0.9,"y":1.12},{"x":1.05,"y":1.16},{"x":1.25,"y":1.13},{"x":1.48,"y":1.18},{"x":1.72,"y":1.12},{"x":2.05,"y":1.16},
{"x":-1.65,"y":1.25},{"x":-1.4,"y":1.28},{"x":-1.2,"y":1.23},{"x":-1.02,"y":1.27},{"x":-0.85,"y":1.22},{"x":-0.68,"y":1.26},{"x":-0.52,"y":1.24},{"x":0.48,"y":1.27},{"x":0.62,"y":1.23},{"x":0.78,"y":1.28},{"x":0.92,"y":1.22},{"x":1.1,"y":1.26},{"x":1.3,"y":1.23},{"x":1.52,"y":1.28},{"x":1.8,"y":1.22},{"x":2.2,"y":1.26},
{"x":-1.62,"y":1.35},{"x":-1.38,"y":1.38},{"x":-1.18,"y":1.33},{"x":-1.0,"y":1.37},{"x":-0.82,"y":1.32},{"x":-0.65,"y":1.36},{"x":0.4,"y":1.37},{"x":0.58,"y":1.33},{"x":0.75,"y":1.38},{"x":0.9,"y":1.32},{"x":1.05,"y":1.36},{"x":1.25,"y":1.33},{"x":1.45,"y":1.38},{"x":1.7,"y":1.32},{"x":2.0,"y":1.36},
{"x":-1.58,"y":1.45},{"x":-1.35,"y":1.48},{"x":-1.15,"y":1.43},{"x":-0.95,"y":1.47},{"x":-0.78,"y":1.42},{"x":-0.6,"y":1.46},{"x":-0.45,"y":1.44},{"x":0.42,"y":1.47},{"x":0.55,"y":1.43},{"x":0.7,"y":1.48},{"x":0.85,"y":1.42},{"x":1.02,"y":1.46},{"x":1.2,"y":1.43},{"x":1.4,"y":1.48},{"x":1.65,"y":1.42},{"x":1.95,"y":1.46},
{"x":-1.4,"y":1.55},{"x":-1.2,"y":1.58},{"x":-1.0,"y":1.53},{"x":-0.82,"y":1.57},{"x":-0.65,"y":1.52},{"x":-0.48,"y":1.56},{"x":0.4,"y":1.57},{"x":0.55,"y":1.53},{"x":0.7,"y":1.58},{"x":0.85,"y":1.52},{"x":1.0,"y":1.56},{"x":1.15,"y":1.53},{"x":1.35,"y":1.58},{"x":1.6,"y":1.52},{"x":1.9,"y":1.56},
{"x":-1.5,"y":1.65},{"x":-1.25,"y":1.68},{"x":-1.05,"y":1.63},{"x":-0.85,"y":1.67},{"x":-0.68,"y":1.62},{"x":-0.5,"y":1.66},{"x":0.45,"y":1.67},{"x":0.6,"y":1.63},{"x":0.78,"y":1.68},{"x":0.95,"y":1.62},{"x":1.12,"y":1.66},{"x":1.3,"y":1.63},{"x":1.5,"y":1.68},{"x":1.75,"y":1.62},{"x":2.1,"y":1.66},
{"x":-1.35,"y":1.75},{"x":-1.12,"y":1.78},{"x":-0.9,"y":1.73},{"x":-0.7,"y":1.77},{"x":-0.55,"y":1.72},{"x":0.48,"y":1.77},{"x":0.65,"y":1.73},{"x":0.82,"y":1.78},{"x":1.0,"y":1.72},{"x":1.18,"y":1.76},{"x":1.4,"y":1.73},{"x":1.65,"y":1.78},{"x":2.0,"y":1.72},
{"x":-1.45,"y":1.85},{"x":-1.2,"y":1.88},{"x":-0.98,"y":1.83},{"x":-0.78,"y":1.87},{"x":-0.58,"y":1.82},{"x":-0.4,"y":1.86},{"x":0.5,"y":1.87},{"x":0.65,"y":1.83},{"x":0.82,"y":1.88},{"x":1.0,"y":1.82},{"x":1.2,"y":1.86},{"x":1.42,"y":1.83},{"x":1.68,"y":1.88},{"x":2.0,"y":1.82},
{"x":-1.3,"y":1.95},{"x":-1.05,"y":1.98},{"x":-0.85,"y":1.93},{"x":-0.65,"y":1.97},{"x":-0.45,"y":1.92},{"x":0.45,"y":1.97},{"x":0.6,"y":1.93},{"x":0.78,"y":1.98},{"x":0.95,"y":1.92},{"x":1.12,"y":1.96},{"x":1.32,"y":1.93},{"x":1.55,"y":1.98},{"x":1.85,"y":1.92},
{"x":-1.4,"y":2.05},{"x":-1.15,"y":2.08},{"x":-0.92,"y":2.03},{"x":-0.7,"y":2.07},{"x":-0.5,"y":2.02},{"x":0.52,"y":2.07},{"x":0.68,"y":2.03},{"x":0.85,"y":2.08},{"x":1.02,"y":2.02},{"x":1.22,"y":2.06},{"x":1.48,"y":2.03},{"x":1.78,"y":2.08},
{"x":-1.28,"y":2.15},{"x":-1.02,"y":2.18},{"x":-0.8,"y":2.13},{"x":-0.58,"y":2.17},{"x":0.48,"y":2.17},{"x":0.62,"y":2.13},{"x":0.8,"y":2.18},{"x":0.98,"y":2.12},{"x":1.15,"y":2.16},{"x":1.38,"y":2.13},{"x":1.65,"y":2.18},{"x":2.0,"y":2.12},
{"x":-1.38,"y":2.25},{"x":-1.12,"y":2.28},{"x":-0.88,"y":2.23},{"x":-0.62,"y":2.27},{"x":0.55,"y":2.27},{"x":0.72,"y":2.23},{"x":0.9,"y":2.28},{"x":1.08,"y":2.22},{"x":1.28,"y":2.26},{"x":1.52,"y":2.23},{"x":1.85,"y":2.28},
{"x":-1.22,"y":2.35},{"x":-0.95,"y":2.38},{"x":-0.7,"y":2.33},{"x":-0.45,"y":2.37},{"x":0.52,"y":2.37},{"x":0.7,"y":2.33},{"x":0.88,"y":2.38},{"x":1.05,"y":2.32},{"x":1.25,"y":2.36},{"x":1.48,"y":2.33},{"x":1.75,"y":2.38},{"x":2.1,"y":2.32},
{"x":-1.3,"y":2.45},{"x":-1.02,"y":2.48},{"x":-0.78,"y":2.43},{"x":-0.52,"y":2.47},{"x":0.58,"y":2.47},{"x":0.75,"y":2.43},{"x":0.92,"y":2.48},{"x":1.12,"y":2.42},{"x":1.35,"y":2.46},{"x":1.62,"y":2.43},{"x":1.95,"y":2.48},
{"x":-1.15,"y":2.55},{"x":-0.88,"y":2.58},{"x":-0.62,"y":2.53},{"x":0.52,"y":2.57},{"x":0.68,"y":2.53},{"x":0.85,"y":2.58},{"x":1.05,"y":2.52},{"x":1.25,"y":2.56},{"x":1.5,"y":2.53},{"x":1.8,"y":2.58},{"x":2.15,"y":2.52},
{"x":-1.22,"y":2.65},{"x":-0.95,"y":2.68},{"x":-0.68,"y":2.63},{"x":-0.4,"y":2.67},{"x":0.6,"y":2.67},{"x":0.78,"y":2.63},{"x":0.95,"y":2.68},{"x":1.15,"y":2.62},{"x":1.38,"y":2.66},{"x":1.65,"y":2.63},{"x":1.98,"y":2.68},
{"x":-1.05,"y":2.75},{"x":-0.75,"y":2.78},{"x":-0.48,"y":2.73},{"x":0.58,"y":2.77},{"x":0.75,"y":2.73},{"x":0.95,"y":2.78},{"x":1.15,"y":2.72},{"x":1.4,"y":2.76},{"x":1.65,"y":2.73},{"x":2.0,"y":2.78},{"x":2.4,"y":2.72},
{"x":-1.12,"y":2.85},{"x":-0.82,"y":2.88},{"x":-0.55,"y":2.83},{"x":0.62,"y":2.87},{"x":0.8,"y":2.83},{"x":1.0,"y":2.88},{"x":1.2,"y":2.82},{"x":1.42,"y":2.86},{"x":1.7,"y":2.83},{"x":2.05,"y":2.88},
{"x":-0.98,"y":2.95},{"x":-0.68,"y":2.98},{"x":0.6,"y":2.97},{"x":0.8,"y":2.93},{"x":1.0,"y":2.98},{"x":1.22,"y":2.92},{"x":1.45,"y":2.96},{"x":1.72,"y":2.93},{"x":2.1,"y":2.98},
{"x":-0.85,"y":3.05},{"x":-0.55,"y":3.08},{"x":0.65,"y":3.07},{"x":0.85,"y":3.03},{"x":1.05,"y":3.08},{"x":1.25,"y":3.02},{"x":1.5,"y":3.06},{"x":1.78,"y":3.03},{"x":2.15,"y":3.08},
{"x":-0.75,"y":3.15},{"x":0.62,"y":3.17},{"x":0.82,"y":3.13},{"x":1.02,"y":3.18},{"x":1.22,"y":3.12},{"x":1.45,"y":3.16},{"x":1.72,"y":3.13},{"x":2.05,"y":3.18},{"x":2.5,"y":3.12},
{"x":-0.65,"y":3.25},{"x":0.68,"y":3.27},{"x":0.88,"y":3.23},{"x":1.08,"y":3.28},{"x":1.3,"y":3.22},{"x":1.55,"y":3.26},{"x":1.85,"y":3.23},{"x":2.25,"y":3.28},
{"x":0.68,"y":3.37},{"x":0.88,"y":3.33},{"x":1.08,"y":3.38},{"x":1.28,"y":3.32},{"x":1.5,"y":3.36},{"x":1.78,"y":3.33},{"x":2.1,"y":3.38},{"x":2.5,"y":3.32},
{"x":0.7,"y":3.47},{"x":0.9,"y":3.43},{"x":1.1,"y":3.48},{"x":1.3,"y":3.42},{"x":1.55,"y":3.46},{"x":1.85,"y":3.43},{"x":2.25,"y":3.48},
{"x":0.72,"y":3.57},{"x":0.92,"y":3.53},{"x":1.12,"y":3.58},{"x":1.32,"y":3.52},{"x":1.58,"y":3.56},{"x":1.9,"y":3.53},
{"x":0.75,"y":3.67},{"x":0.95,"y":3.63},{"x":1.15,"y":3.68},{"x":1.38,"y":3.62},{"x":1.65,"y":3.66},{"x":2.05,"y":3.63},
{"x":0.78,"y":3.77},{"x":0.98,"y":3.73},{"x":1.18,"y":3.78},{"x":1.4,"y":3.72},{"x":1.68,"y":3.76},{"x":2.0,"y":3.73},
{"x":0.8,"y":3.87},{"x":1.0,"y":3.83},{"x":1.2,"y":3.88},{"x":1.45,"y":3.82},{"x":1.72,"y":3.86},
{"x":0.85,"y":3.97},{"x":1.05,"y":3.93},{"x":1.25,"y":3.98},{"x":1.5,"y":3.92},{"x":1.78,"y":3.96},
{"x":0.88,"y":4.07},{"x":1.08,"y":4.03},{"x":1.3,"y":4.08},{"x":1.55,"y":4.02},{"x":1.82,"y":4.06},
{"x":0.92,"y":4.17},{"x":1.12,"y":4.13},{"x":1.35,"y":4.18},{"x":1.6,"y":4.12},
{"x":0.98,"y":4.27},{"x":1.18,"y":4.23},{"x":1.42,"y":4.28},{"x":1.68,"y":4.22},
{"x":1.02,"y":4.37},{"x":1.22,"y":4.33},{"x":1.48,"y":4.38},{"x":1.75,"y":4.32},
{"x":1.08,"y":4.47},{"x":1.3,"y":4.43},{"x":1.55,"y":4.48},
{"x":1.15,"y":4.57},{"x":1.38,"y":4.53},{"x":1.62,"y":4.58},
{"x":1.2,"y":4.67},{"x":1.45,"y":4.63},{"x":1.72,"y":4.68},
{"x":1.25,"y":4.77},{"x":1.5,"y":4.73},{"x":1.28,"y":4.87},{"x":1.52,"y":4.83},{"x":1.3,"y":4.97},{"x":1.55,"y":4.93},{"x":1.32,"y":5.07},{"x":1.58,"y":5.03},{"x":1.35,"y":5.17},{"x":1.62,"y":5.13},{"x":1.38,"y":5.27},{"x":1.68,"y":5.23},{"x":1.42,"y":5.37},{"x":1.72,"y":5.33},{"x":1.45,"y":5.47},{"x":1.5,"y":5.57}
],
"curve": [
{"b":"R","i":0,"x":1.17,"y":9.22},{"b":"R","i":1,"x":1.17,"y":8.0},{"b":"R","i":2,"x":1.18,"y":7.0},{"b":"R","i":3,"x":1.18,"y":6.1},{"b":"R","i":4,"x":1.21,"y":4.95},{"b":"R","i":5,"x":1.23,"y":4.18},{"b":"R","i":6,"x":1.26,"y":3.5},{"b":"R","i":7,"x":1.31,"y":2.66},{"b":"R","i":8,"x":1.35,"y":2.05},{"b":"R","i":9,"x":1.44,"y":1.29},{"b":"R","i":10,"x":1.55,"y":1.08},{"b":"R","i":11,"x":1.68,"y":0.91},{"b":"R","i":12,"x":1.91,"y":0.72},{"b":"R","i":13,"x":2.39,"y":0.56},{"b":"R","i":14,"x":2.98,"y":0.49},{"b":"R","i":15,"x":4.04,"y":0.41},{"b":"R","i":16,"x":5.58,"y":0.35},{"b":"R","i":17,"x":7.47,"y":0.32},{"b":"R","i":18,"x":9.66,"y":0.3},
{"b":"L","i":0,"x":-1.21,"y":9.22},{"b":"L","i":1,"x":-1.21,"y":8.0},{"b":"L","i":2,"x":-1.22,"y":6.09},{"b":"L","i":3,"x":-1.24,"y":4.95},{"b":"L","i":4,"x":-1.28,"y":4.18},{"b":"L","i":5,"x":-1.3,"y":3.5},{"b":"L","i":6,"x":-1.33,"y":2.8},{"b":"L","i":7,"x":-1.39,"y":2.05},{"b":"L","i":8,"x":-1.49,"y":1.48},{"b":"L","i":9,"x":-1.63,"y":1.1},{"b":"L","i":10,"x":-1.87,"y":0.83},{"b":"L","i":11,"x":-2.22,"y":0.64},{"b":"L","i":12,"x":-2.7,"y":0.53},{"b":"L","i":13,"x":-3.52,"y":0.41},{"b":"L","i":14,"x":-4.7,"y":0.35},{"b":"L","i":15,"x":-5.89,"y":0.32},{"b":"L","i":16,"x":-7.3,"y":0.31}
],
"hits": [
{"label":"PBANKA_145720","x":3.44,"y":6.16,"grp":"phospholipid binding"},
{"label":"PBANKA_071560","x":5.14,"y":5.82,"grp":"PbRpt3"},
{"label":"PBANKA_061820","x":2.15,"y":4.37,"grp":"phospholipid binding"},
{"label":"PBANKA_030520","x":3.03,"y":4.13,"grp":"phospholipid binding"},
{"label":"PBANKA_135140","x":4.28,"y":3.37,"grp":"phospholipid binding"},
{"label":"PBANKA_092520","x":2.0,"y":2.85,"grp":"phospholipid binding"},
{"label":"PBANKA_136540","x":2.33,"y":2.48,"grp":"phospholipid binding"},
{"label":"PBANKA_121190","x":2.24,"y":2.22,"grp":"phospholipid binding"}
],
"tbl": [
{"row":0,"hdr":true,"id":"PlasmoDB Gene Id","sym":"","desc":"Protein description"},
{"row":1,"hdr":false,"id":"PBANKA_1351400","sym":"PH2","desc":"phosphoinositide-binding protein PH2, putative"},
{"row":2,"hdr":false,"id":"PBANKA_1457200","sym":"DOC2","desc":"double C2-like domain-containing protein, putative"},
{"row":3,"hdr":false,"id":"PBANKA_0305200","sym":"","desc":"C2 domain-containing protein 5, putative"},
{"row":4,"hdr":false,"id":"PBANKA_1365400","sym":"MON1","desc":"vacuolar fusion protein MON1, putative"},
{"row":5,"hdr":false,"id":"PBANKA_1211900","sym":"PI-PLC","desc":"phosphoinositide-specific phospholipase C"},
{"row":6,"hdr":false,"id":"PBANKA_0618200","sym":"","desc":"phosphoinositide-binding protein PX1, putative"},
{"row":7,"hdr":false,"id":"PBANKA_0925200","sym":"CDPK7","desc":"calcium-dependent protein kinase 7 (CDPK7)"}
],
"cap": [
{"line":1,"part":"bL","text":"Figure 66. Analyse de l’interactome de PbRpt3 : détection des protéines"},
{"line":1,"part":"bR","text":"intervenant dans des voies d’interaction"},
{"line":2,"part":"bL","text":"aux phospholipides. A."},
{"line":2,"part":"M2a","text":"Volcano plot illustrant"},
{"line":2,"part":"M2b","text":"les protéines significativement"},
{"line":2,"part":"R","text":"enrichies dans les extraits"},
{"line":3,"part":"L","text":"immunoprécipités à partir de parasites exprimant"},
{"line":3,"part":"M34","text":"PbRpt3-mCherry."},
{"line":3,"part":"R","text":"PbRpt3 (PBANKA_0715600) est indiquée en"},
{"line":4,"part":"L","text":"rouge, et les protéines appartenant aux voies"},
{"line":4,"part":"M34","text":"« phospholipid binding » sont indiquées en bleu."},
{"line":4,"part":"B4","text":"B."},
{"line":4,"part":"R","text":"Liste des"},
{"line":5,"part":"L","text":"protéines des voies d’interaction avec les phospholipides"},
{"line":5,"part":"R","text":"significativement enrichies dans l’interactome de PbRpt3-"},
{"line":6,"part":"L","text":"mCherry, classées par ordre décroissant de"},
{"line":6,"part":"M6","text":"significativité (Student t-test)."},
{"line":6,"part":"R","text":"Les identifiants des gènes et leur"},
{"line":7,"part":"L","text":"description ont été mis à jour avec la version 64 de PlasmoDB."}
]
},
"vconcat": [
{
"hconcat": [
{
"width": 385, "height": 793,
"title": {"text": "A", "anchor": "start", "frame": "group", "dx": -59, "offset": 2, "fontSize": 21, "fontWeight": "bold", "font": "Liberation Sans", "baseline": "alphabetic", "color": "black"},
"layer": [
{
"data": {"name": "pts"},
"mark": {"type": "point", "shape": "square", "filled": false, "size": 40, "strokeWidth": 1.5, "color": "#a8a8a8", "opacity": 1},
"encoding": {
"x": {"field": "x", "type": "quantitative", "scale": {"domain": [-5.64, 8.0], "nice": false, "zero": false},
"axis": {"values": [-5, 0, 5], "labelExpr": "datum.value", "grid": false, "domainColor": "#7f7f7f", "domainWidth": 1.5, "tickColor": "#7f7f7f", "tickWidth": 1.5, "tickSize": 5, "labelFont": "Liberation Sans", "labelFontSize": 12, "labelColor": "#333333", "labelPadding": 8, "title": "Difference (RPT3ch - WT)", "titleFont": "Liberation Sans", "titleFontSize": 13, "titleFontWeight": "normal", "titleColor": "#333333", "titlePadding": 4}},
"y": {"field": "y", "type": "quantitative", "scale": {"domain": [-0.39, 8.67], "nice": false, "zero": false},
"axis": {"values": [0, 1, 2, 3, 4, 5, 6, 7, 8], "labelExpr": "datum.value", "grid": false, "domainColor": "#7f7f7f", "domainWidth": 1.5, "tickColor": "#7f7f7f", "tickWidth": 1.5, "tickSize": 5, "labelAngle": -90, "labelAlign": "center", "labelBaseline": "bottom", "labelFont": "Liberation Sans", "labelFontSize": 12, "labelColor": "#333333", "labelPadding": 5, "title": "-Log p", "titleFont": "Liberation Sans", "titleFontSize": 13, "titleFontWeight": "normal", "titleColor": "#333333", "titlePadding": 10}}
}
},
{
"data": {"name": "curve"},
"mark": {"type": "line", "color": "black", "strokeWidth": 2.5},
"encoding": {
"x": {"field": "x", "type": "quantitative"},
"y": {"field": "y", "type": "quantitative"},
"detail": {"field": "b"},
"order": {"field": "i", "type": "quantitative"}
}
},
{
"data": {"name": "hits"},
"mark": {"type": "circle", "size": 32, "opacity": 1},
"encoding": {
"x": {"field": "x", "type": "quantitative"},
"y": {"field": "y", "type": "quantitative"},
"color": {"field": "grp", "type": "nominal", "scale": {"domain": ["phospholipid binding", "PbRpt3"], "range": ["#1a1aff", "#ff1a1a"]}, "legend": null}
}
},
{
"data": {"name": "hits"},
"mark": {"type": "text", "align": "left", "baseline": "middle", "dx": 0, "dy": 9, "font": "Liberation Sans", "fontSize": 13},
"encoding": {
"x": {"field": "x", "type": "quantitative"},
"y": {"field": "y", "type": "quantitative"},
"text": {"field": "label"},
"color": {"field": "grp", "type": "nominal", "scale": {"domain": ["phospholipid binding", "PbRpt3"], "range": ["#1a1aff", "#ff1a1a"]}, "legend": null}
}
}
]
},
{
"title": {"text": "B", "anchor": "start", "frame": "group", "dx": 2, "offset": 55, "fontSize": 21, "fontWeight": "bold", "font": "Liberation Sans", "baseline": "alphabetic", "color": "black"},
"spacing": 0,
"bounds": "flush",
"hconcat": [
{
"width": 168, "height": 460,
"data": {"name": "tbl"},
"encoding": {"y": {"field": "row", "type": "ordinal", "axis": null, "scale": {"paddingInner": 0, "paddingOuter": 0, "range": [257, 460]}}},
"layer": [
{"mark": {"type": "rect", "stroke": "#1a1a1a", "strokeWidth": 1.2},
 "encoding": {"fill": {"condition": {"test": "datum.hdr", "value": "#c6c6c6"}, "value": "white"}}},
{"mark": {"type": "text", "align": "left", "baseline": "middle", "dx": 4, "font": "Lato", "fontSize": 16.6, "color": "black"},
 "encoding": {"x": {"value": 0}, "text": {"field": "id"}}}
]
},
{
"width": 79, "height": 460,
"data": {"name": "tbl"},
"encoding": {"y": {"field": "row", "type": "ordinal", "axis": null, "scale": {"paddingInner": 0, "paddingOuter": 0, "range": [257, 460]}}},
"layer": [
{"mark": {"type": "rect", "stroke": "#1a1a1a", "strokeWidth": 1.2},
 "encoding": {"fill": {"condition": {"test": "datum.hdr", "value": "#c6c6c6"}, "value": "white"}}},
{"mark": {"type": "text", "align": "center", "baseline": "middle", "dx": -39.5, "font": "Lato", "fontSize": 16.6, "color": "black"},
 "encoding": {"x": {"value": "width"}, "text": {"field": "sym"}}}
]
},
{
"width": 396, "height": 460,
"data": {"name": "tbl"},
"encoding": {"y": {"field": "row", "type": "ordinal", "axis": null, "scale": {"paddingInner": 0, "paddingOuter": 0, "range": [257, 460]}}},
"layer": [
{"mark": {"type": "rect", "stroke": "#1a1a1a", "strokeWidth": 1.2},
 "encoding": {"fill": {"condition": {"test": "datum.hdr", "value": "#c6c6c6"}, "value": "white"}}},
{"transform": [{"filter": "!datum.hdr"}],
 "mark": {"type": "text", "align": "left", "baseline": "middle", "dx": 4, "font": "Lato", "fontSize": 16.6, "color": "black"},
 "encoding": {"x": {"value": 0}, "text": {"field": "desc"}}},
{"transform": [{"filter": "datum.hdr"}],
 "mark": {"type": "text", "align": "left", "baseline": "middle", "dx": -75, "font": "Lato", "fontSize": 16.6, "color": "black"},
 "encoding": {"x": {"value": 0}, "text": {"field": "desc"}}}
]
}
]
}
],
"spacing": 0
},
{
"width": 1172, "height": 210,
"data": {"name": "cap"},
"encoding": {"y": {"field": "line", "type": "ordinal", "axis": null, "scale": {"paddingInner": 0, "paddingOuter": 0}}},
"layer": [
{"transform": [{"filter": "datum.part == 'bL'"}],
 "mark": {"type": "text", "align": "left", "baseline": "middle", "dx": -91, "font": "Lato", "fontSize": 23.4, "fontWeight": "bold", "color": "black"},
 "encoding": {"x": {"value": 0}, "text": {"field": "text"}}},
{"transform": [{"filter": "datum.part == 'bR'"}],
 "mark": {"type": "text", "align": "right", "baseline": "middle", "dx": -91, "font": "Lato", "fontSize": 23.4, "fontWeight": "bold", "color": "black"},
 "encoding": {"x": {"value": "width"}, "text": {"field": "text"}}},
{"transform": [{"filter": "datum.part == 'B4'"}],
 "mark": {"type": "text", "align": "left", "baseline": "middle", "dx": 944, "font": "Lato", "fontSize": 23.4, "fontWeight": "bold", "color": "black"},
 "encoding": {"x": {"value": 0}, "text": {"field": "text"}}},
{"transform": [{"filter": "datum.part == 'L'"}],
 "mark": {"type": "text", "align": "left", "baseline": "middle", "dx": -91, "font": "Lato", "fontSize": 23.3, "color": "black"},
 "encoding": {"x": {"value": 0}, "text": {"field": "text"}}},
{"transform": [{"filter": "datum.part == 'M2a'"}],
 "mark": {"type": "text", "align": "left", "baseline": "middle", "dx": 192, "font": "Lato", "fontSize": 23.3, "color": "black"},
 "encoding": {"x": {"value": 0}, "text": {"field": "text"}}},
{"transform": [{"filter": "datum.part == 'M2b'"}],
 "mark": {"type": "text", "align": "left", "baseline": "middle", "dx": 460, "font": "Lato", "fontSize": 23.3, "color": "black"},
 "encoding": {"x": {"value": 0}, "text": {"field": "text"}}},
{"transform": [{"filter": "datum.part == 'M34'"}],
 "mark": {"type": "text", "align": "left", "baseline": "middle", "dx": 424, "font": "Lato", "fontSize": 23.3, "color": "black"},
 "encoding": {"x": {"value": 0}, "text": {"field": "text"}}},
{"transform": [{"filter": "datum.part == 'M6'"}],
 "mark": {"type": "text", "align": "left", "baseline": "middle", "dx": 398, "font": "Lato", "fontSize": 23.3, "color": "black"},
 "encoding": {"x": {"value": 0}, "text": {"field": "text"}}},
{"transform": [{"filter": "datum.part == 'R'"}],
 "mark": {"type": "text", "align": "right", "baseline": "middle", "dx": -91, "font": "Lato", "fontSize": 23.3, "color": "black"},
 "encoding": {"x": {"value": "width"}, "text": {"field": "text"}}}
]
}
],
"spacing": 28
}
